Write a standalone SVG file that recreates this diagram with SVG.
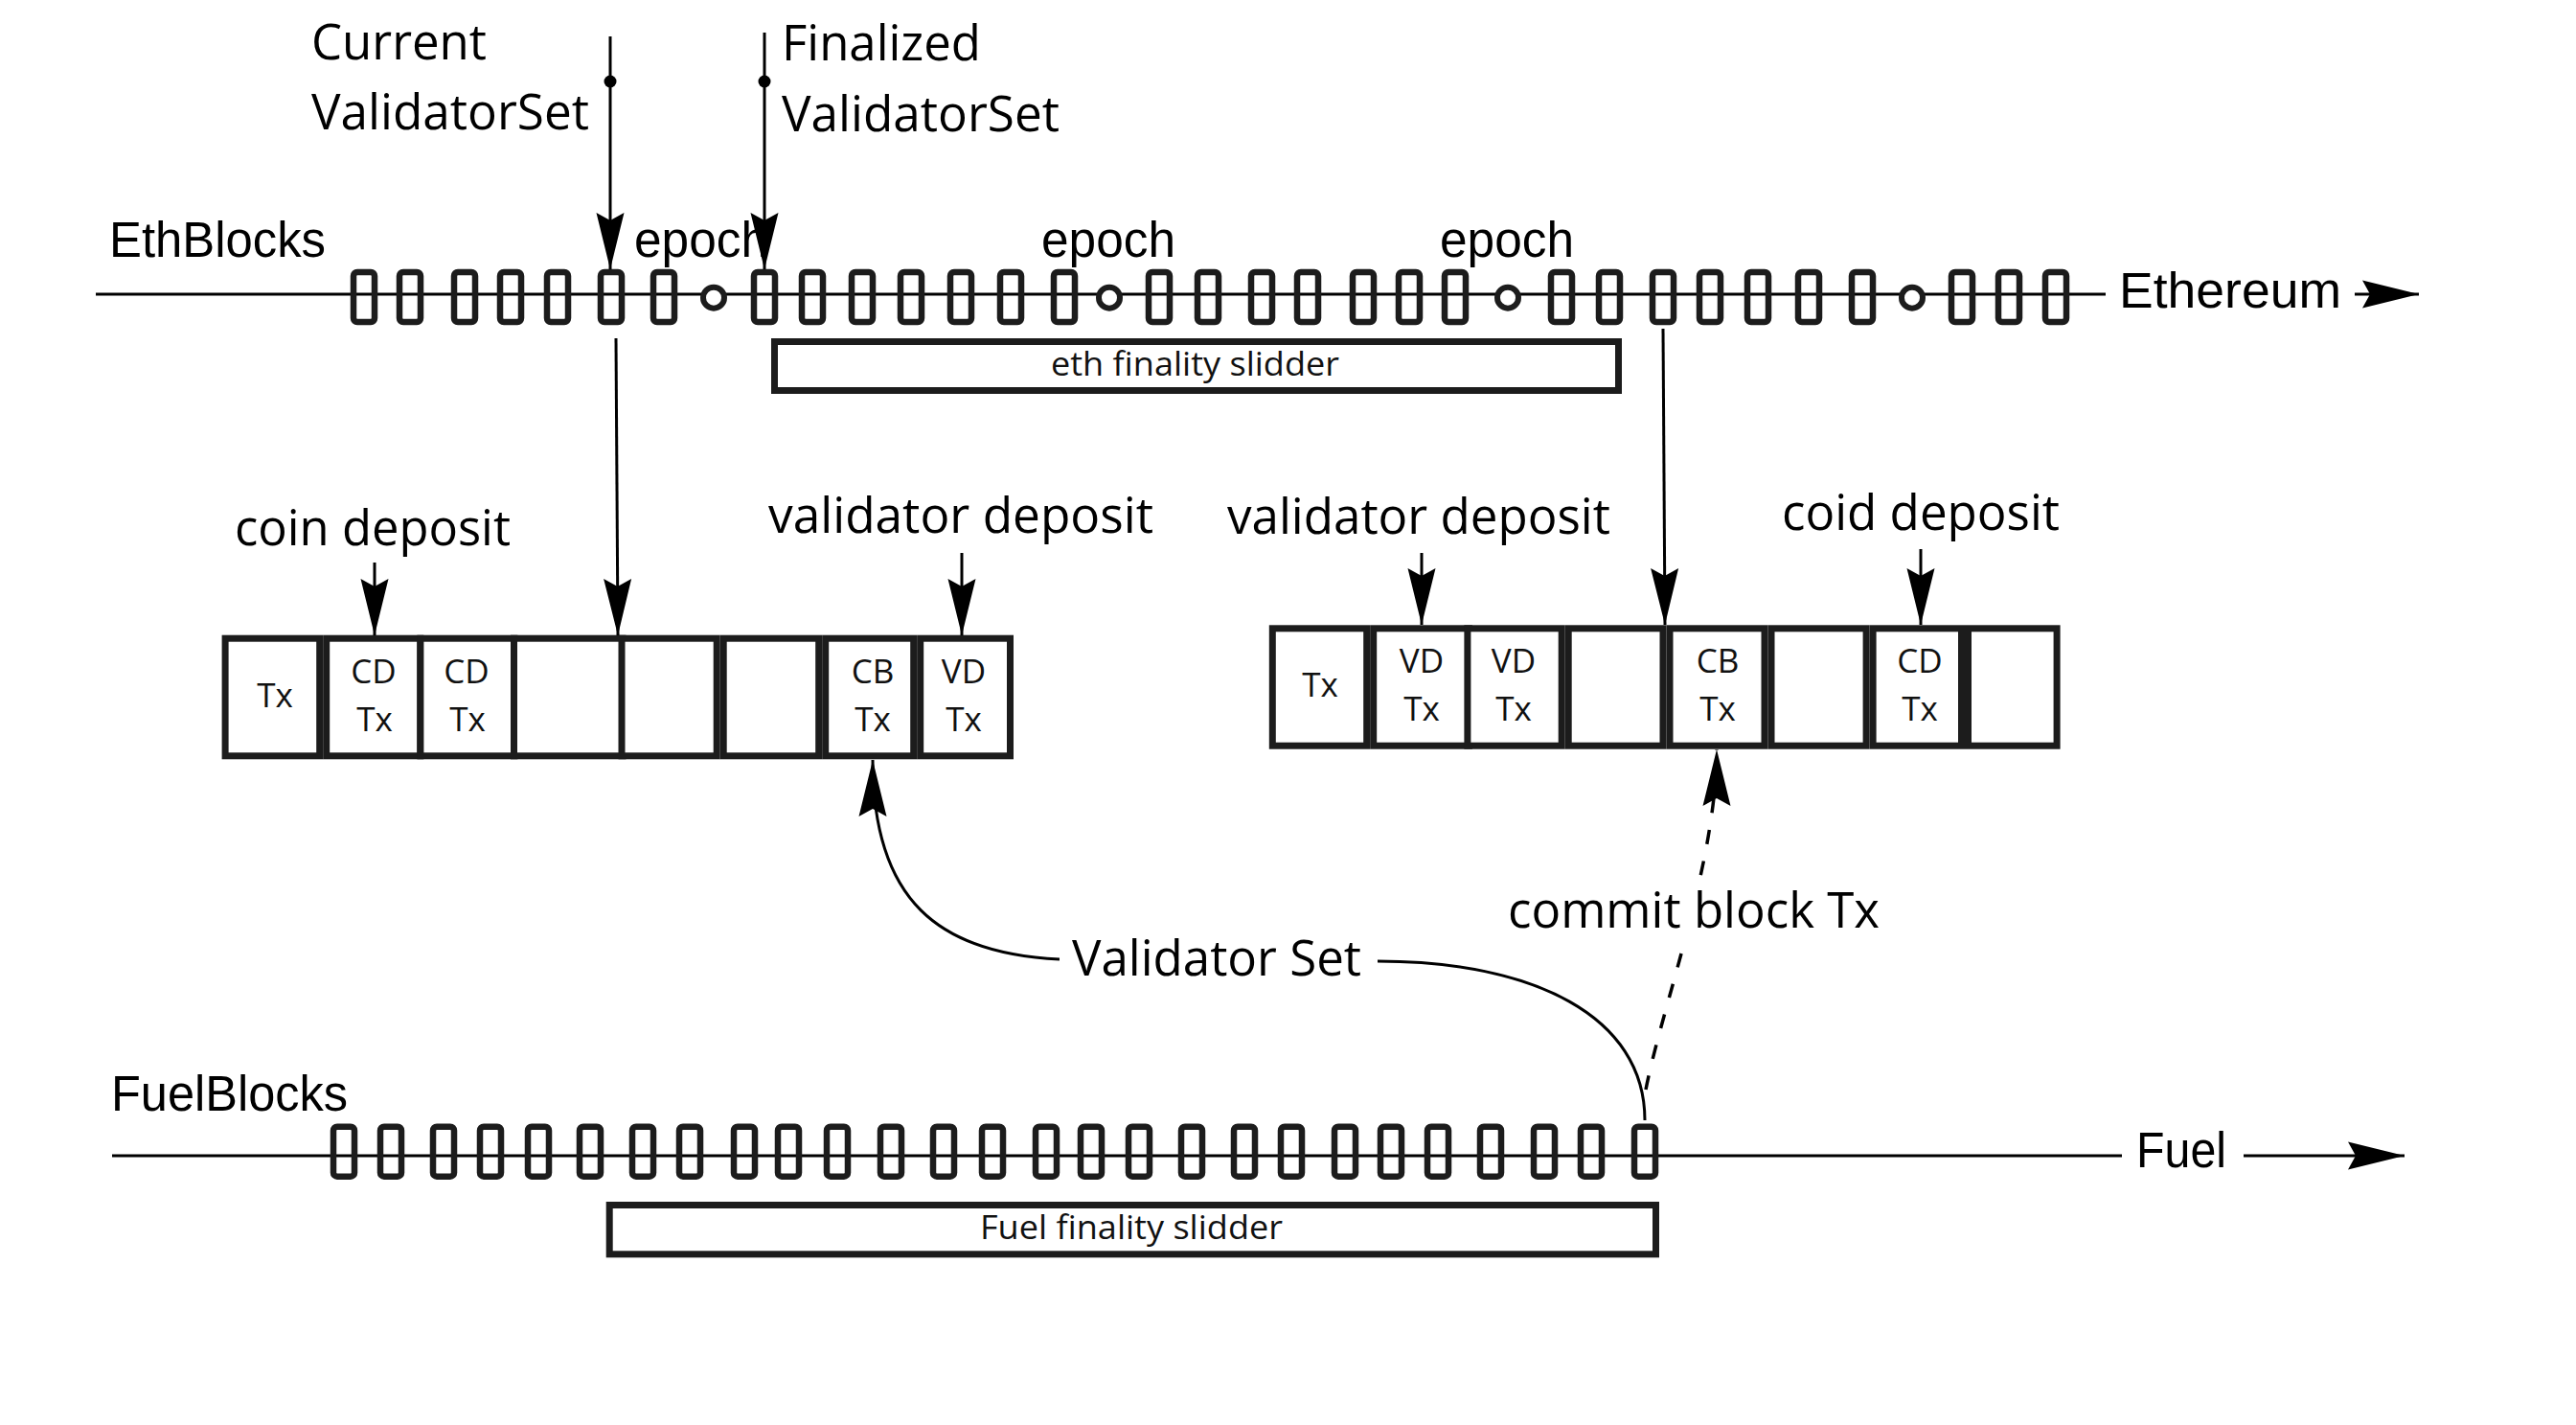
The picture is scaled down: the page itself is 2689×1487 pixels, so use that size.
<svg xmlns="http://www.w3.org/2000/svg" xmlns:xlink="http://www.w3.org/1999/xlink" width="2689" height="1487" viewBox="0 0 2689 1487">
<defs>
<style>
.lbl{font-family:"Open Sans","Noto Sans","Liberation Sans",sans-serif;font-size:51px;fill:#000}
.ar{font-family:"Liberation Sans",Arial,sans-serif;font-size:51px;fill:#000}
.sl{font-family:"Open Sans","Noto Sans",sans-serif;font-size:34px;fill:#111}
.cell{font-family:"Open Sans","Noto Sans",sans-serif;font-size:35px;fill:#111;text-anchor:middle}
.cbox{fill:#fff;stroke:#1c1c1c;stroke-width:7}
.blk{fill:none;stroke:#1c1c1c;stroke-width:6.5}
.ep{fill:#fff;stroke:#1c1c1c;stroke-width:6}
.axis{stroke:#000;stroke-width:3;fill:none}
.con{stroke:#000;stroke-width:3;fill:none}
.dash{stroke:#000;stroke-width:3.5;fill:none;stroke-dasharray:15 18}
</style>
<marker id="ah" viewBox="-60 -15 61 30" refX="0" refY="0" markerWidth="61" markerHeight="30" markerUnits="userSpaceOnUse" orient="auto" overflow="visible">
<path d="M0,0 L-59,-14.5 L-51,0 L-59,14.5 Z" fill="#000"/>
</marker>
<rect id="blk" class="blk" x="-11" y="-26" width="22" height="52" rx="4"/>
</defs>
<rect width="2689" height="1487" fill="#fff"/>

<g id="eth-chain">
<line class="axis" x1="100" y1="307" x2="2198" y2="307"/>
<g transform="translate(0,310)">
<use href="#blk" x="380"/><use href="#blk" x="428"/><use href="#blk" x="485"/><use href="#blk" x="533"/><use href="#blk" x="582"/><use href="#blk" x="638"/><use href="#blk" x="693"/>
<use href="#blk" x="798"/><use href="#blk" x="848"/><use href="#blk" x="900"/><use href="#blk" x="951"/><use href="#blk" x="1003"/><use href="#blk" x="1055"/><use href="#blk" x="1111"/>
<use href="#blk" x="1210"/><use href="#blk" x="1261"/><use href="#blk" x="1317"/><use href="#blk" x="1365"/><use href="#blk" x="1423"/><use href="#blk" x="1471"/><use href="#blk" x="1519"/>
<use href="#blk" x="1630"/><use href="#blk" x="1680"/><use href="#blk" x="1736"/><use href="#blk" x="1785"/><use href="#blk" x="1835"/><use href="#blk" x="1888"/><use href="#blk" x="1944"/>
<use href="#blk" x="2048"/><use href="#blk" x="2097"/><use href="#blk" x="2146"/>
<circle class="ep" cx="745" cy="0.7" r="11"/>
<circle class="ep" cx="1158" cy="0.7" r="11"/>
<circle class="ep" cx="1574" cy="0.7" r="11"/>
<circle class="ep" cx="1996" cy="0.7" r="11"/>
</g>
<text class="ar" x="114" y="268" textLength="226" lengthAdjust="spacingAndGlyphs">EthBlocks</text>
<text class="ar" x="662" y="268" textLength="140" lengthAdjust="spacingAndGlyphs">epoch</text>
<text class="ar" x="1087" y="268" textLength="140" lengthAdjust="spacingAndGlyphs">epoch</text>
<text class="ar" x="1503" y="268" textLength="140" lengthAdjust="spacingAndGlyphs">epoch</text>
<text class="ar" x="2212" y="321" textLength="232" lengthAdjust="spacingAndGlyphs">Ethereum</text>
</g>

<g id="eth-slider">
<rect class="cbox" x="808.5" y="356.5" width="881" height="51"/>
<text class="sl" x="1097" y="392" textLength="301" lengthAdjust="spacingAndGlyphs">eth finality slidder</text>
</g>

<g id="fuel-chain">
<line class="axis" x1="117" y1="1206" x2="2215" y2="1206" stroke-width="3.5"/>
<g transform="translate(0,1201.7)">
<use href="#blk" x="359"/><use href="#blk" x="408"/><use href="#blk" x="463"/><use href="#blk" x="512"/><use href="#blk" x="562"/><use href="#blk" x="616"/><use href="#blk" x="671"/><use href="#blk" x="720"/><use href="#blk" x="777"/>
<use href="#blk" x="823"/><use href="#blk" x="874"/><use href="#blk" x="930"/><use href="#blk" x="985"/><use href="#blk" x="1036"/><use href="#blk" x="1092"/><use href="#blk" x="1139"/><use href="#blk" x="1189"/><use href="#blk" x="1244"/>
<use href="#blk" x="1299"/><use href="#blk" x="1348"/><use href="#blk" x="1404"/><use href="#blk" x="1452"/><use href="#blk" x="1501"/><use href="#blk" x="1556"/><use href="#blk" x="1612"/><use href="#blk" x="1661"/><use href="#blk" x="1717"/>
</g>
<text class="ar" x="116" y="1159" textLength="247" lengthAdjust="spacingAndGlyphs">FuelBlocks</text>
<text class="ar" x="2230" y="1218" textLength="94" lengthAdjust="spacingAndGlyphs">Fuel</text>
</g>

<g id="fuel-slider">
<rect class="cbox" x="636.2" y="1257.5" width="1092.3" height="51.3"/>
<text class="sl" x="1023" y="1293" textLength="316" lengthAdjust="spacingAndGlyphs">Fuel finality slidder</text>
</g>

<g id="eth-block-left">
<g id="l-c1"><rect class="cbox" x="235.1" y="666.2" width="98.6" height="122.6"/><text class="cell" x="287" y="738">Tx</text></g>
<g id="l-c2"><rect class="cbox" x="340.7" y="666.2" width="98.1" height="122.6"/><text class="cell" x="390" y="713">CD</text><text class="cell" x="391" y="763">Tx</text></g>
<g id="l-c3"><rect class="cbox" x="438.9" y="666.2" width="98" height="122.6"/><text class="cell" x="487" y="713">CD</text><text class="cell" x="488" y="763">Tx</text></g>
<g id="l-c4"><rect class="cbox" x="536.5" y="666.2" width="113.5" height="122.6"/></g>
<g id="l-c5"><rect class="cbox" x="649" y="666.2" width="99.2" height="122.6"/></g>
<g id="l-c6"><rect class="cbox" x="755.2" y="666.2" width="99.5" height="122.6"/></g>
<g id="l-c7"><rect class="cbox" x="861.7" y="666.2" width="92" height="122.6"/><text class="cell" x="911" y="713">CB</text><text class="cell" x="911" y="763">Tx</text></g>
<g id="l-c8"><rect class="cbox" x="960.7" y="666.2" width="93.8" height="122.6"/><text class="cell" x="1006" y="713">VD</text><text class="cell" x="1006" y="763">Tx</text></g>
</g>

<g id="eth-block-right">
<g id="r-c1"><rect class="cbox" x="1328.3" y="655.8" width="98.4" height="122.4"/><text class="cell" x="1378" y="727">Tx</text></g>
<g id="r-c2"><rect class="cbox" x="1433.7" y="655.8" width="99.7" height="122.4"/><text class="cell" x="1484" y="702">VD</text><text class="cell" x="1484" y="752">Tx</text></g>
<g id="r-c3"><rect class="cbox" x="1531.9" y="655.8" width="98.3" height="122.4"/><text class="cell" x="1580" y="702">VD</text><text class="cell" x="1580" y="752">Tx</text></g>
<g id="r-c4"><rect class="cbox" x="1637.2" y="655.8" width="98.8" height="122.4"/></g>
<g id="r-c5"><rect class="cbox" x="1743" y="655.8" width="99" height="122.4"/><text class="cell" x="1793" y="702">CB</text><text class="cell" x="1793" y="752">Tx</text></g>
<g id="r-c6"><rect class="cbox" x="1849" y="655.8" width="99.1" height="122.4"/></g>
<g id="r-c7"><rect class="cbox" x="1955.1" y="655.8" width="92.4" height="122.4"/><text class="cell" x="2004" y="702">CD</text><text class="cell" x="2004" y="752">Tx</text></g>
<g id="r-c8"><rect class="cbox" x="2054.5" y="655.8" width="92.6" height="122.4"/></g>
</g>

<g id="labels">
<text class="lbl" x="325" y="62" textLength="183" lengthAdjust="spacingAndGlyphs">Current</text>
<text class="lbl" x="325" y="135" textLength="290" lengthAdjust="spacingAndGlyphs">ValidatorSet</text>
<text class="lbl" x="816" y="63" textLength="208" lengthAdjust="spacingAndGlyphs">Finalized</text>
<text class="lbl" x="816" y="137" textLength="290" lengthAdjust="spacingAndGlyphs">ValidatorSet</text>
<text class="lbl" x="245" y="569" textLength="288" lengthAdjust="spacingAndGlyphs">coin deposit</text>
<text class="lbl" x="802" y="556" textLength="402" lengthAdjust="spacingAndGlyphs">validator deposit</text>
<text class="lbl" x="1281" y="557" textLength="400" lengthAdjust="spacingAndGlyphs">validator deposit</text>
<text class="lbl" x="1860" y="553" textLength="290" lengthAdjust="spacingAndGlyphs">coid deposit</text>
<text class="lbl" x="1119" y="1018" textLength="302" lengthAdjust="spacingAndGlyphs">Validator Set</text>
</g>

<g id="connectors">
<line class="con" x1="637" y1="38" x2="637" y2="281" marker-end="url(#ah)"/>
<circle cx="637" cy="85" r="6.5" fill="#000"/>
<line class="con" x1="798" y1="34" x2="798" y2="281" marker-end="url(#ah)"/>
<circle cx="798" cy="85" r="6.5" fill="#000"/>
<line class="con" x1="643" y1="353" x2="645" y2="663" marker-end="url(#ah)"/>
<line class="con" x1="1736" y1="343" x2="1738" y2="652" marker-end="url(#ah)"/>
<line class="con" x1="391" y1="587" x2="391" y2="663" marker-end="url(#ah)"/>
<line class="con" x1="1004" y1="577" x2="1004" y2="663" marker-end="url(#ah)"/>
<line class="con" x1="1484" y1="577" x2="1484" y2="652" marker-end="url(#ah)"/>
<line class="con" x1="2005" y1="573" x2="2005" y2="652" marker-end="url(#ah)"/>
<line class="con" x1="2458" y1="307" x2="2525" y2="307" marker-end="url(#ah)"/>
<line class="con" x1="2342" y1="1206" x2="2510" y2="1206" stroke-width="3.5" marker-end="url(#ah)"/>
<path class="con" d="M1106,1001 C980,995 911,940 911,793" stroke-width="3.5" marker-end="url(#ah)"/>
<path class="con" d="M1438,1003 C1600,1003 1717,1060 1717,1169" stroke-width="3.5"/>
<path class="dash" d="M1718,1137 C1735,1050 1792,900 1792,782" marker-end="url(#ah)"/>
<rect x="1570" y="918" width="395" height="72" fill="#fff"/>
<text class="lbl" x="1574" y="968" textLength="388" lengthAdjust="spacingAndGlyphs">commit block Tx</text>
</g>
</svg>
